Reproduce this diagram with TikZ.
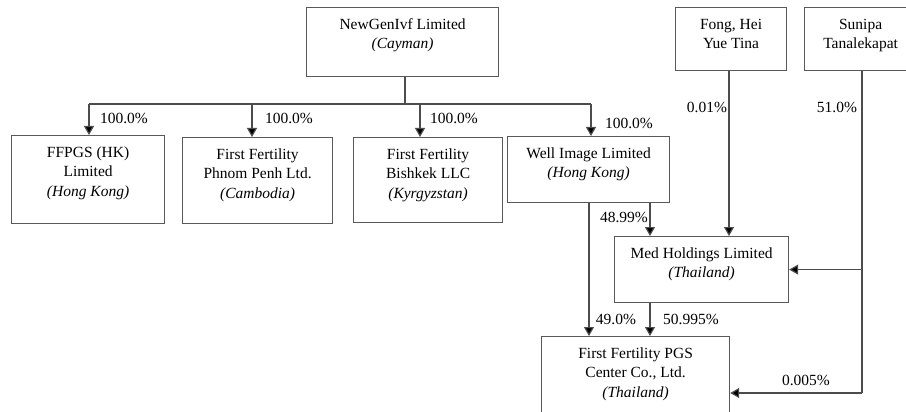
\documentclass[tikz,border=0pt]{standalone}
\usepackage{fontspec}
\setmainfont{Liberation Serif}
\newfontfamily\tnr{Liberation Serif}
\usetikzlibrary{arrows.meta}
\begin{document}
\begin{tikzpicture}[x=1pt,y=-1pt,
  box/.style={draw=black!65, line width=1.2pt, anchor=north west, inner sep=0},
  ln/.style={draw=black!70, line width=1.2pt},
  arr/.style={ln, -{Triangle[width=10pt,length=9pt,fill=black]}},
  txt/.style={align=center, inner sep=0, anchor=north, font=\tnr\fontsize{15.5}{19.2}\selectfont},
  pct/.style={inner sep=0, font=\tnr\fontsize{15.5}{19.2}\selectfont}]
\useasboundingbox (0,0) rectangle (906,412);
\clip (0,0) rectangle (906,412);
\fill[white] (0,0) rectangle (906,412);
% boxes
\node[box, minimum width=192pt, minimum height=69pt] (ng) at (306,7) {};
\node[box, minimum width=153pt, minimum height=88pt] (ffpgs) at (11,135) {};
\node[box, minimum width=150pt, minimum height=86pt] (ph) at (182,137) {};
\node[box, minimum width=149pt, minimum height=85pt] (bk) at (353,137) {};
\node[box, minimum width=162pt, minimum height=66pt] (wi) at (507,136) {};
\node[box, minimum width=111pt, minimum height=63pt] (fong) at (675,7) {};
\node[box, minimum width=112pt, minimum height=63pt] (sun) at (804,7) {};
\node[box, minimum width=174pt, minimum height=66pt] (med) at (614,236) {};
\node[box, minimum width=188pt, minimum height=120pt] (pgs) at (541,336) {};
% texts
\node[txt] (tng) at ([yshift=-10.5pt]ng.north) {\rule{0pt}{12pt}NewGenIvf Limited\\\textit{(Cayman)}};
\node[txt] (tffpgs) at ([yshift=-10.5pt]ffpgs.north) {\rule{0pt}{12pt}FFPGS (HK)\\Limited\\\textit{(Hong Kong)}};
\node[txt] (tph) at ([yshift=-10.5pt]ph.north) {\rule{0pt}{12pt}First Fertility\\Phnom Penh Ltd.\\\textit{(Cambodia)}};
\node[txt] (tbk) at ([yshift=-10.5pt]bk.north) {\rule{0pt}{12pt}First Fertility\\Bishkek LLC\\\textit{(Kyrgyzstan)}};
\node[txt] (twi) at ([yshift=-10.5pt]wi.north) {\rule{0pt}{12pt}Well Image Limited\\\textit{(Hong Kong)}};
\node[txt] (tfong) at ([yshift=-10.5pt]fong.north) {\rule{0pt}{12pt}Fong, Hei\\Yue Tina};
\node[txt] (tsun) at ([yshift=-10.5pt]sun.north) {\rule{0pt}{12pt}Sunipa\\Tanalekapat};
\node[txt] (tmed) at ([yshift=-10.5pt]med.north) {\rule{0pt}{12pt}Med Holdings Limited\\\textit{(Thailand)}};
\node[txt] (tpgs) at ([yshift=-10.5pt]pgs.north) {\rule{0pt}{12pt}First Fertility PGS\\Center Co., Ltd.\\\textit{(Thailand)}};
% bus from NewGenIvf
\coordinate (bus) at (405,104);
\coordinate (b1) at (89,104);
\coordinate (b2) at (252,104);
\coordinate (b3) at (420,104);
\coordinate (b4) at (591,104);
\draw[ln] (ng.south -| bus) -- (bus);
\draw[ln] (b1) -- (b4);
\draw[arr] (b1) -- (b1 |- ffpgs.north);
\draw[arr] (b2) -- (b2 |- ph.north);
\draw[arr] (b3) -- (b3 |- bk.north);
\draw[arr] (b4) -- (b4 |- wi.north);
% Well Image
\coordinate (w1) at (589,0);
\coordinate (w2) at (650,0);
\draw[arr] (wi.south -| w1) -- (pgs.north -| w1);
\draw[arr] (wi.south -| w2) -- (med.north -| w2);
\draw[arr] (med.south -| w2) -- (pgs.north -| w2);
% Fong
\coordinate (f1) at (729,0);
\draw[arr] (fong.south -| f1) -- (med.north -| f1);
% Sunipa
\coordinate (s2) at (862,393);
\draw[ln] (sun.south -| s2) -- (s2);
\draw[arr] (s2 |- med.east) -- (med.east);
\draw[arr] (s2) -- (s2 -| pgs.east);
% percentages
\node[pct] (p1) at (124,118) {100.0\%};
\node[pct] (p2) at (289,118) {100.0\%};
\node[pct] (p3) at (454,118) {100.0\%};
\node[pct] (p4) at (629,123) {100.0\%};
\node[pct] (p5) at (707,107) {0.01\%};
\node[pct] (p6) at (837,107) {51.0\%};
\node[pct] (p7) at (624,217) {48.99\%};
\node[pct] (p8) at (616,319) {49.0\%};
\node[pct] (p9) at (691,319) {50.995\%};
\node[pct] (p10) at (806,380) {0.005\%};
\end{tikzpicture}
\end{document}
